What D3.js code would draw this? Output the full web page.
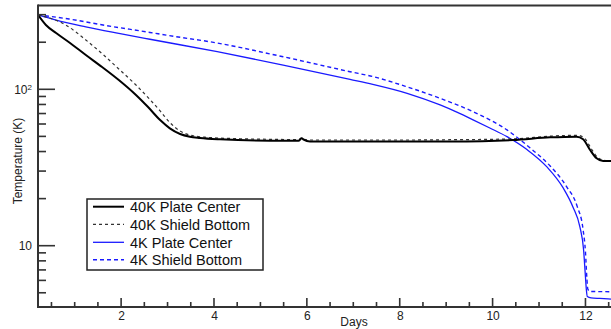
<!DOCTYPE html>
<html>
<head>
<meta charset="utf-8">
<script src="https://cdn.jsdelivr.net/npm/d3@7"></script>
<style>
  html, body { margin: 0; padding: 0; background: #fff; }
  svg { display: block; font-family: "Liberation Sans", Arial, sans-serif; }
</style>
</head>
<body>
<svg id="chart" width="611" height="329"></svg>
<script>
// ---- data ----
const days40Center = [0.21,0.38,0.6,0.9,1.24,1.59,1.95,2.32,2.58,2.84,3.05,3.27,3.48,3.7,4.13,5.21,5.82,5.89,5.93,6.07,7.0,8.0,9.08,10.44,11.24,11.81,11.95,12.1,12.24,12.38,12.55];
const temp40Center = [299,257.6,229,197.7,165.6,138.9,114.7,92,77,63.6,56.3,51.8,49.8,48.9,47.9,46.9,46.9,48.6,47.7,46.4,46.3,46.3,46.4,47.4,49.3,49.8,47.9,40.9,36.2,34.8,34.8];

const days40Shield = [0.21,0.81,1.24,1.61,1.95,2.32,2.62,2.84,3.05,3.27,3.48,3.85,4.56,5.21,5.82,5.89,5.93,6.07,8.0,9.08,10.44,11.24,11.83,11.98,12.13,12.27,12.4,12.55];
const temp40Shield = [299,257.6,206.7,167,134.9,106.5,86.1,72.7,61.3,54.1,51,49.3,48.3,47.9,47.7,49,48,47.4,47.4,47.6,48.2,50.2,50.8,48.7,41.5,36.5,35.2,35];

const days4Center = [0.21,0.6,1.24,1.95,2.62,4.07,5.49,6.93,7.42,8.16,8.87,9.23,9.58,9.94,10.31,10.74,11.17,11.52,11.73,11.88,11.96,12.0,12.02,12.04,12.12,12.31,12.55];
const temp4Center = [299,277,251,228,209,174,143,115.8,107.6,94.3,79.4,71.4,63.8,56.6,49.8,41.2,31.9,23.4,17.7,13.2,9.39,6.31,5.21,4.73,4.64,4.6,4.56];

const days4Shield = [0.21,0.88,1.61,2.62,2.97,4.07,5.49,6.93,7.43,8.15,8.87,9.58,10.31,10.81,11.24,11.6,11.82,11.95,12.0,12.03,12.05,12.1,12.55];
const temp4Shield = [299,281.5,257.7,231,222,197.7,161.5,129.6,120.4,103.9,87.6,71.9,55,42.1,32.3,23.7,17.9,12.6,9.11,6.22,5.29,5.1,5.08];

const seriesNames = ["40K Plate Center","40K Shield Bottom","4K Plate Center","4K Shield Bottom"];
const xMajorTicks = [2,4,6,8,10,12];
const xMinorTicks = [0.5,1,1.5,2.5,3,3.5,4.5,5,5.5,6.5,7,7.5,8.5,9,9.5,10.5,11,11.5,12.5];
const yMajorTicks = [10,100];
const yMinorTicks = [5,6,7,8,9,20,30,40,50,60,70,80,90,200,300];
const xLabel = "Days";
const yLabel = "Temperature (K)";

// ---- layout ----
const L = 38, R = 611, T = 5, B = 307;
const svg = d3.select("#chart");
const x = d3.scaleLinear().domain([0.21, 12.55]).range([L, R]);
const y = d3.scaleLog().domain([346, 4.055]).range([T, B]);

const axisColor = "#333";
const blue = "#1a1aff";
const fontFam = "Liberation Sans, Arial, sans-serif";

svg.append("defs").append("clipPath").attr("id","plotclip")
  .append("rect").attr("x", L).attr("y", T).attr("width", R - L + 5).attr("height", B - T);

// curves
const styles = [
  {days: days40Center, temps: temp40Center, color: "#000", width: 2, dash: null},
  {days: days40Shield, temps: temp40Shield, color: "#333", width: 1.2, dash: "3,3"},
  {days: days4Center, temps: temp4Center, color: blue, width: 1.3, dash: null},
  {days: days4Shield, temps: temp4Shield, color: blue, width: 1.4, dash: "4,3"}
];
const line = d3.line().x(d => x(d[0])).y(d => y(d[1])).curve(d3.curveMonotoneX);
const gPlot = svg.append("g").attr("clip-path", "url(#plotclip)");
[2,3,1,0].forEach(i => {
  const s = styles[i];
  const pts = s.days.map((d, k) => [d, s.temps[k]]);
  gPlot.append("path").attr("d", line(pts)).attr("fill","none")
    .attr("stroke", s.color).attr("stroke-width", s.width)
    .attr("stroke-dasharray", s.dash).attr("stroke-linejoin","round");
});

// tick labels via axes (no lines)
function styleAxis(g) {
  g.selectAll(".domain").remove();
  g.selectAll(".tick line").remove();
  g.selectAll("text").attr("font-size", 12).attr("fill", "#222").attr("font-family", fontFam);
}
const gx = svg.append("g").attr("transform", `translate(0,${B})`)
  .call(d3.axisBottom(x).tickValues(xMajorTicks).tickSize(0).tickPadding(4).tickFormat(d3.format("d")));
styleAxis(gx);
gx.selectAll("text").attr("dy", "0.71em");
const gy = svg.append("g").attr("transform", `translate(${L},0)`)
  .call(d3.axisLeft(y).tickValues(yMajorTicks).tickSize(0).tickPadding(6).tickFormat(d => d === 100 ? "10" : String(d)));
styleAxis(gy);
gy.selectAll(".tick").filter(d => d === 100).select("text")
  .append("tspan").attr("dy", "-0.45em").attr("font-size", 8).text("2");

// frame
svg.append("rect").attr("x", L).attr("y", T - 0.5).attr("width", R - L).attr("height", 2).attr("fill", axisColor);
svg.append("rect").attr("x", L - 1).attr("y", B - 1).attr("width", R - L + 1).attr("height", 2).attr("fill", axisColor);
svg.append("rect").attr("x", L - 1).attr("y", T - 0.5).attr("width", 2).attr("height", B - T + 1.5).attr("fill", axisColor);

// ---- tick marks (inward), filled rects placed by the scales ----
const gTicks = svg.append("g").attr("fill", axisColor);
gTicks.selectAll("rect.xt")
  .data(xMinorTicks.map(d => ({v: d, len: 5})).concat(xMajorTicks.map(d => ({v: d, len: 9}))))
  .join("rect").attr("class", "xt")
  .attr("x", d => x(d.v) - 0.8).attr("y", d => B - d.len).attr("width", 1.6).attr("height", d => d.len);
gTicks.selectAll("rect.yt")
  .data(yMinorTicks.map(d => ({v: d, len: 9})).concat(yMajorTicks.map(d => ({v: d, len: 18}))))
  .join("rect").attr("class", "yt")
  .attr("x", L - 1).attr("y", d => y(d.v) - 0.8).attr("width", d => d.len).attr("height", 1.6);

// axis labels
svg.append("text").attr("x", 354).attr("y", 326).attr("text-anchor","middle")
  .attr("font-size", 12).attr("fill","#222").text(xLabel);
svg.append("text").attr("transform", "translate(22,161) rotate(-90)").attr("text-anchor","middle")
  .attr("font-size", 12).attr("fill","#222").text(yLabel);

// legend
const lg = svg.append("g");
lg.append("rect").attr("x", 87).attr("y", 199).attr("width", 176).attr("height", 71)
  .attr("fill","#fff").attr("stroke","#222").attr("stroke-width", 1.5);
const rowY = [206.7, 224.3, 242.3, 259.7];
styles.forEach((s, i) => {
  lg.append("line").attr("x1", 93).attr("x2", 124).attr("y1", rowY[i]).attr("y2", rowY[i])
    .attr("stroke", s.color).attr("stroke-width", s.width).attr("stroke-dasharray", s.dash);
  lg.append("text").attr("x", 130).attr("y", rowY[i]).attr("dy", "0.36em")
    .attr("font-size", 14.5).attr("fill", "#111").text(seriesNames[i]);
});
</script>
</body>
</html>
